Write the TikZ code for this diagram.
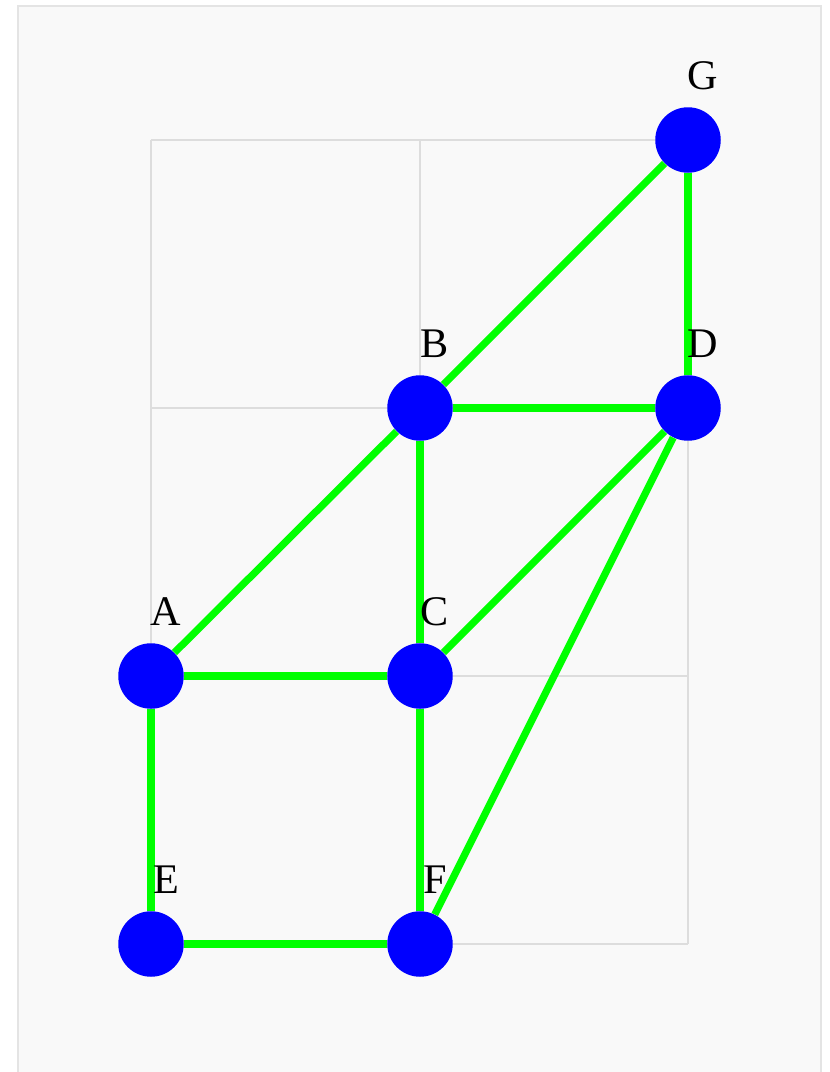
\documentclass[tikz,border=0pt]{standalone}
\usepackage{fontspec}
\setmainfont{Liberation Serif}
\usetikzlibrary{calc}
\definecolor{panelbg}{HTML}{F9F9F9}
\definecolor{panelrim}{HTML}{E4E4E4}
\definecolor{gridgray}{HTML}{DDDDDD}
\definecolor{edgegreen}{HTML}{00FF00}

\begin{document}
\begin{tikzpicture}[x=0.02cm,y=-0.02cm]

    \tikzstyle{panel}+=[
        fill=panelbg,
        draw=panelrim,
        line width = 0.3mm
    ]
    \tikzstyle{gridline}+=[
        draw=gridgray,
        line width = 0.35mm
    ]
    \tikzstyle{vertex}+=[
        circle,
        fill=blue,
        inner sep=0pt,
        minimum size=1.31cm
    ]
    \tikzstyle{edge}+=[
        draw=edgegreen,
        line width = 1.45mm
    ]
    \tikzstyle{vlabel}+=[
        font=\fontsize{24}{28}\selectfont,
        anchor=base,
        inner sep=0pt
    ]

    % ----------------------------------------------------------------------------
    \useasboundingbox (0,0) rectangle (829,1072);
    \draw[panel] (18,6) rectangle (821,1090);

    % ----------------------------------------------------------------------------
    \foreach \gx in {151,420,688}
        \draw[gridline] (\gx,140) -- (\gx,944);
    \foreach \gy in {140,408,676,944}
        \draw[gridline] (151,\gy) -- (688,\gy);

    % ----------------------------------------------------------------------------
    \coordinate(pA) at (151,676);
    \coordinate(pB) at (420,408);
    \coordinate(pC) at (420,676);
    \coordinate(pD) at (688,408);
    \coordinate(pE) at (151,944);
    \coordinate(pF) at (420,944);
    \coordinate(pG) at (688,140);

    % ----------------------------------------------------------------------------
    \node[vertex] (A) at (pA) {};
    \node[vertex] (B) at (pB) {};
    \node[vertex] (C) at (pC) {};
    \node[vertex] (D) at (pD) {};
    \node[vertex] (E) at (pE) {};
    \node[vertex] (F) at (pF) {};
    \node[vertex] (G) at (pG) {};

    % ----------------------------------------------------------------------------
    \draw[edge] (A) -- (B);
    \draw[edge] (A) -- (C);
    \draw[edge] (A) -- (E);
    \draw[edge] (B) -- (C);
    \draw[edge] (B) -- (D);
    \draw[edge] (B) -- (G);
    \draw[edge] (C) -- (D);
    \draw[edge] (C) -- (F);
    \draw[edge] (D) -- (F);
    \draw[edge] (D) -- (G);
    \draw[edge] (E) -- (F);

    % ----------------------------------------------------------------------------
    \node[vlabel] (labA) at ([shift={(15,-51)}]pA) {A};
    \node[vlabel] (labB) at ([shift={(15,-51)}]pB) {B};
    \node[vlabel] (labC) at ([shift={(15,-51)}]pC) {C};
    \node[vlabel] (labD) at ([shift={(15,-51)}]pD) {D};
    \node[vlabel] (labE) at ([shift={(15,-51)}]pE) {E};
    \node[vlabel] (labF) at ([shift={(15,-51)}]pF) {F};
    \node[vlabel] (labG) at ([shift={(15,-51)}]pG) {G};

\end{tikzpicture}
\end{document}
